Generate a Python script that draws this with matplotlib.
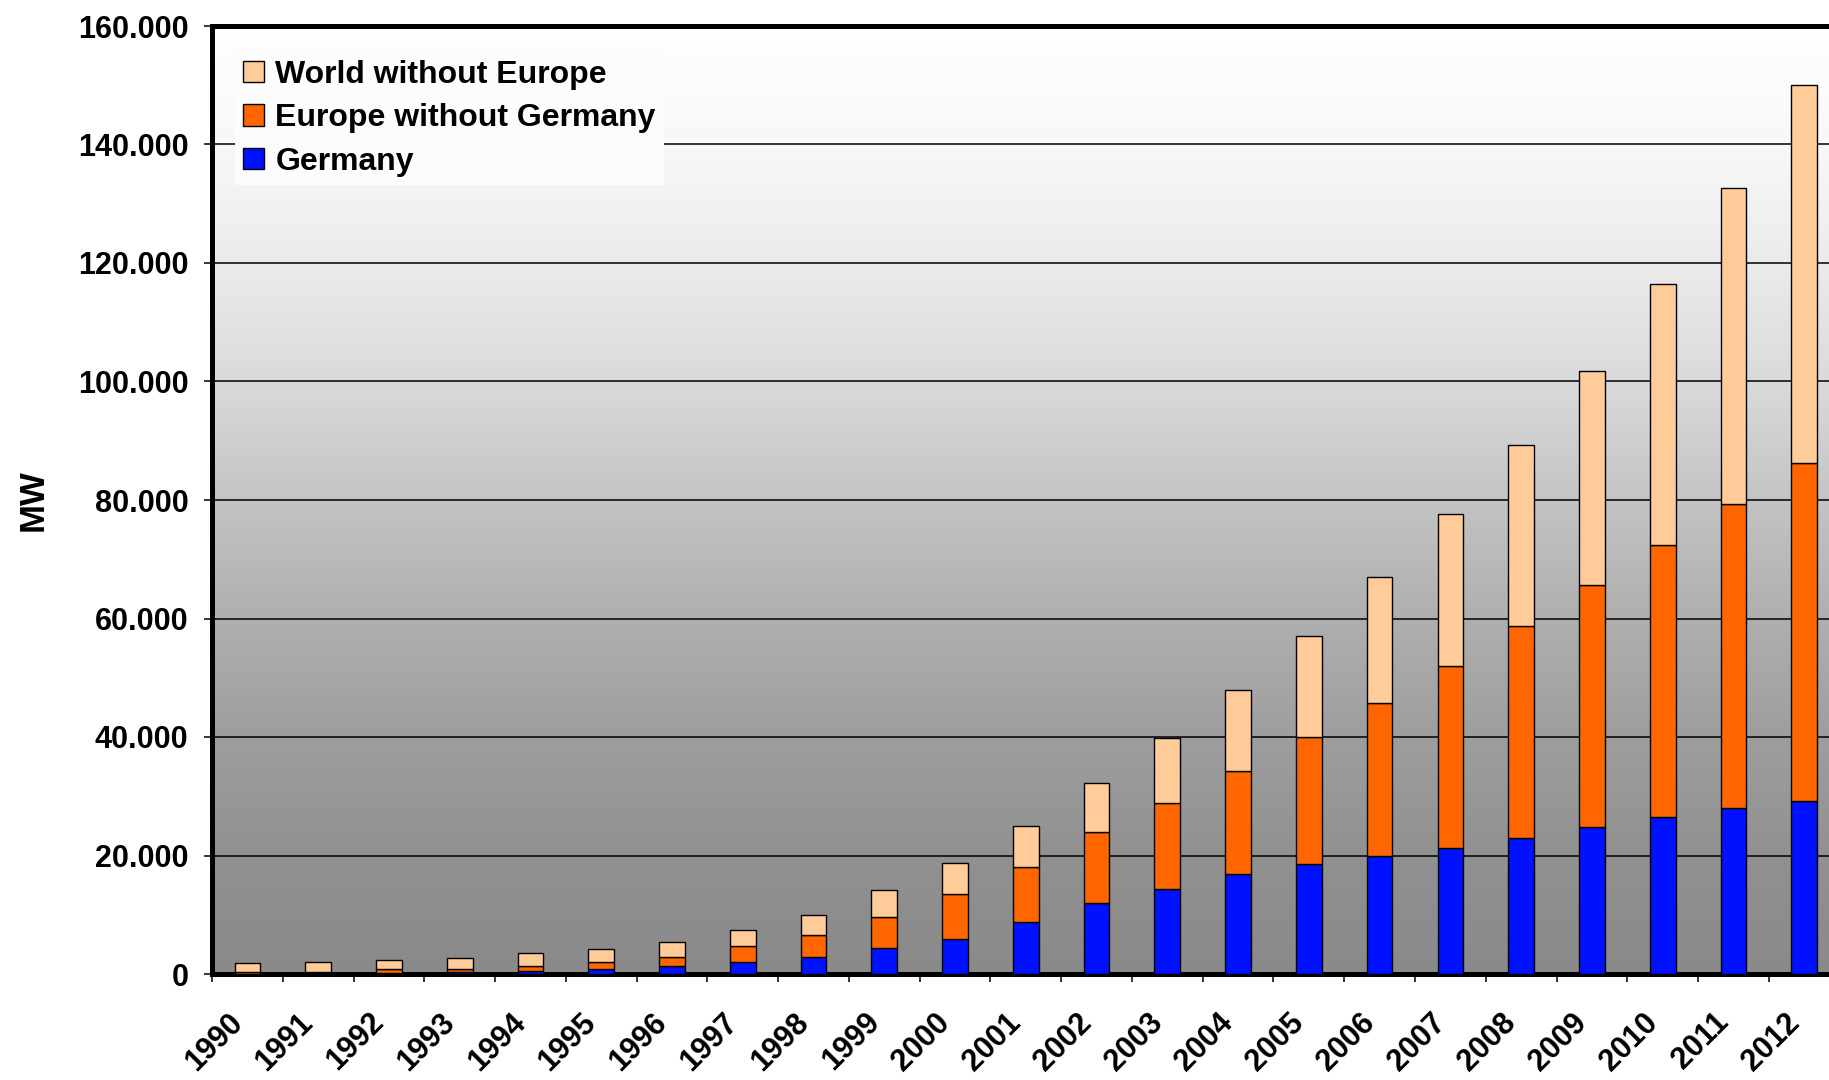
import numpy as np
import matplotlib
matplotlib.use('Agg')
import matplotlib.pyplot as plt
from matplotlib.patches import Patch
from matplotlib.ticker import FuncFormatter
from matplotlib.transforms import ScaledTranslation

plt.rcParams['font.family'] = ['Liberation Sans', 'DejaVu Sans']
plt.rcParams['font.weight'] = 'bold'

# installed capacity in MW
years = ['1990', '1991', '1992', '1993', '1994', '1995', '1996', '1997', '1998', '1999',
         '2000', '2001', '2002', '2003', '2004', '2005', '2006', '2007', '2008', '2009',
         '2010', '2011', '2012']
germany = [60, 100, 180, 300, 550, 900, 1400, 2000, 2900, 4400,
           5900, 8700, 12000, 14400, 16800, 18600, 19900, 21300, 22900, 24800,
           26500, 28000, 29200]
europe_wo_germany = [240, 300, 620, 500, 850, 1100, 1500, 2700, 3600, 5200,
                     7600, 9300, 12000, 14500, 17500, 21400, 25900, 30700, 35800, 40900,
                     45900, 51400, 57000]
world_wo_europe = [1500, 1700, 1600, 1900, 2200, 2200, 2500, 2700, 3400, 4500,
                   5200, 7000, 8200, 10900, 13700, 17100, 21200, 25600, 30500, 36000,
                   44000, 53200, 63800]

series_labels = ['World without Europe', 'Europe without Germany', 'Germany']
colors = ['#FFCC99', '#FF6600', '#0011FF']

W, H = 1829, 1080
fig = plt.figure(figsize=(W / 100, H / 100), dpi=100)
ax = fig.add_axes([212 / W, 106 / H, 1 - 212 / W, 948 / H])

x = np.arange(len(years))
g = np.array(germany)
e = np.array(europe_wo_germany)
w = np.array(world_wo_europe)
bw = 0.363

xlim = (-0.5, 22.35)
ylim = (0, 160000)

# grey gradient background of the plot area
stops_v = [0, 20000, 40000, 60000, 80000, 100000, 120000, 140000, 160000]
stops_c = [138, 145, 158, 175, 196, 218, 235, 248, 255]
yy = np.linspace(ylim[1], ylim[0], 400)
lev = np.interp(yy, stops_v, stops_c) / 255.0
grad = np.repeat(lev[:, None], 3, axis=1)[:, None, :]
ax.imshow(grad, extent=(xlim[0], xlim[1], ylim[0], ylim[1]), aspect='auto', zorder=0)

ax.bar(x, g, bw, color=colors[2], edgecolor='black', lw=1.0, zorder=3)
ax.bar(x, e, bw, bottom=g, color=colors[1], edgecolor='black', lw=1.0, zorder=3)
ax.bar(x, w, bw, bottom=g + e, color=colors[0], edgecolor='black', lw=1.0, zorder=3)

ax.set_xlim(*xlim)
ax.set_ylim(*ylim)

ax.set_yticks(np.arange(0, 160001, 20000))
ax.yaxis.set_major_formatter(FuncFormatter(lambda v, p: '{:,}'.format(int(v)).replace(',', '.')))
ax.yaxis.grid(True, color='black', lw=1.1)
ax.set_axisbelow(True)
ax.tick_params(axis='y', length=6, width=1.1, pad=11, labelsize=22)

ax.set_xticks(x)
ax.set_xticklabels(years, rotation=45, ha='right', rotation_mode='anchor', fontsize=22)
ax.set_xticks(np.arange(-0.5, 22.5, 1), minor=True)
ax.tick_params(axis='x', which='major', length=0, pad=24)
ax.tick_params(axis='x', which='minor', length=6, width=1.1)
shift = ScaledTranslation(-0.2, 0, fig.dpi_scale_trans)
for lbl in ax.get_xticklabels():
    lbl.set_transform(lbl.get_transform() + shift)

for s in ['left', 'bottom', 'top']:
    ax.spines[s].set_linewidth(3.6)
ax.spines['right'].set_visible(False)

ax.set_ylabel('MW', fontsize=25, fontweight='bold')
ax.yaxis.set_label_coords(-0.1005, 0.5)

handles = [Patch(facecolor=c, edgecolor='black', lw=1.0) for c in colors]
leg = ax.legend(handles, series_labels, loc='upper left', bbox_to_anchor=(0.0145, 0.9726),
                borderaxespad=0, fancybox=False, framealpha=1, facecolor='#fcfcfc',
                edgecolor='none', fontsize=23, handlelength=0.65, handleheight=0.65,
                handletextpad=0.35, labelspacing=0.42, borderpad=0.25)
leg.set_zorder(5)

fig.savefig('out.png', dpi=100)
